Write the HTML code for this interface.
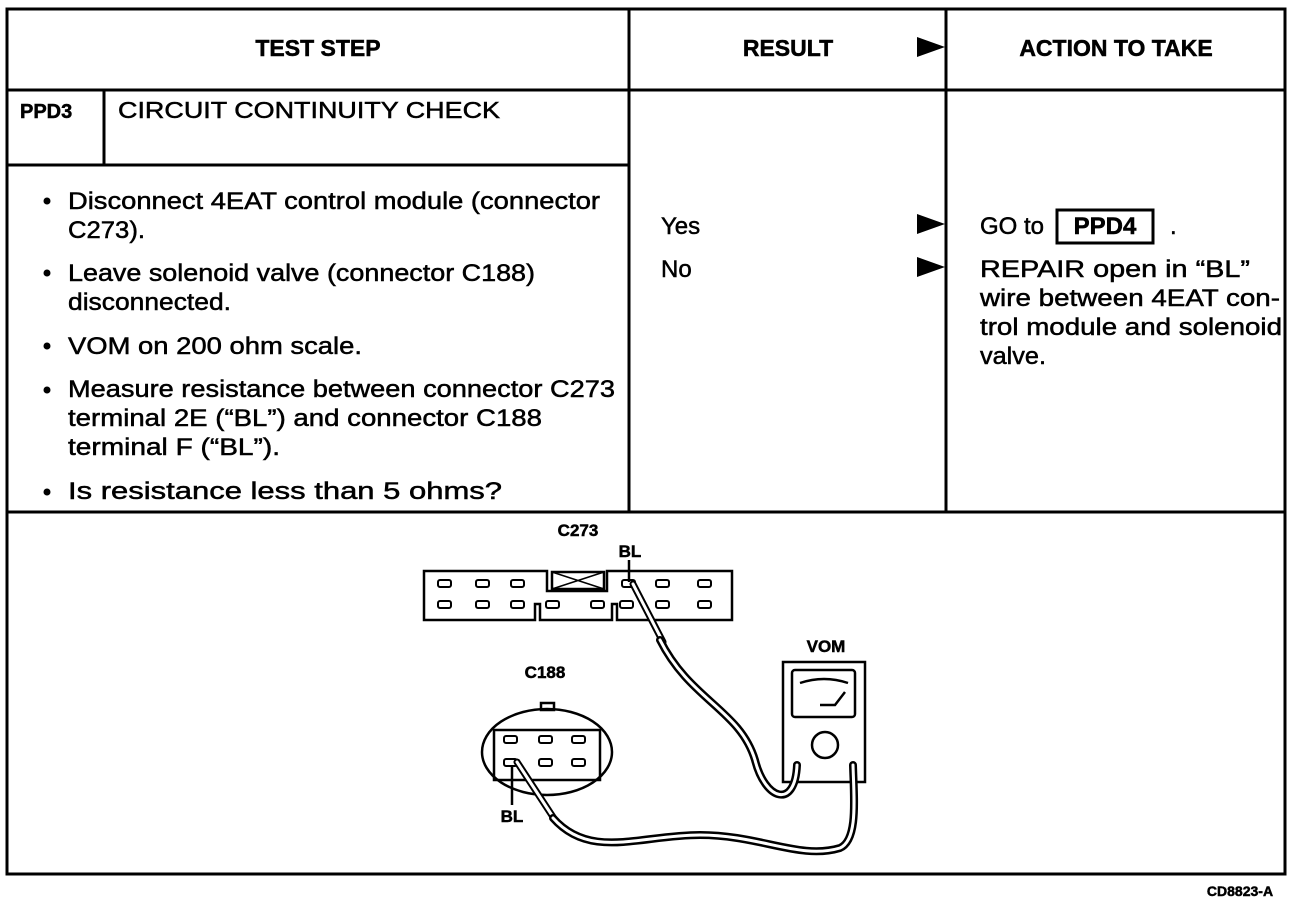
<!DOCTYPE html>
<html><head><meta charset="utf-8"><style>
html,body{margin:0;padding:0;background:#fff;}
svg{display:block;}
text{font-family:"Liberation Sans",Arial,sans-serif;fill:#000;}
.t text{stroke:#000;stroke-width:0.5;}
.b{font-weight:bold;}
</style></head><body>
<svg width="1312" height="904" viewBox="0 0 1312 904" xmlns="http://www.w3.org/2000/svg">
<g stroke="#000" fill="none" stroke-width="3">
<rect x="7" y="9" width="1278" height="865"/>
<line x1="7" y1="90" x2="1285" y2="90"/>
<line x1="629" y1="9" x2="629" y2="512"/>
<line x1="946" y1="9" x2="946" y2="512"/>
<line x1="7" y1="165" x2="629" y2="165"/>
<line x1="104" y1="90" x2="104" y2="165"/>
<line x1="7" y1="512" x2="1285" y2="512"/>
</g>
<g font-size="23" class="t">
<text x="318" y="56" text-anchor="middle" class="b">TEST STEP</text>
<text x="788" y="56" text-anchor="middle" class="b">RESULT</text>
<text x="1116" y="56" text-anchor="middle" class="b">ACTION TO TAKE</text>
<text x="20" y="118" class="b" font-size="20">PPD3</text>
<text x="118" y="118" textLength="382" lengthAdjust="spacingAndGlyphs">CIRCUIT CONTINUITY CHECK</text>
</g>
<g fill="#000">
<polygon points="917,37 945,47 917,57"/>
<polygon points="917,214 945,224 917,234"/>
<polygon points="917,257 945,267 917,277"/>
</g>
<g font-size="24" class="t">
<circle cx="47" cy="201" r="3.5"/><circle cx="47" cy="273" r="3.5"/><circle cx="47" cy="346" r="3.5"/><circle cx="47" cy="390" r="3.5"/><circle cx="47" cy="492" r="3.5"/>
<text x="68" y="209" textLength="532" lengthAdjust="spacingAndGlyphs">Disconnect 4EAT control module (connector</text>
<text x="68" y="238" textLength="77" lengthAdjust="spacingAndGlyphs">C273).</text>
<text x="68" y="281" textLength="467" lengthAdjust="spacingAndGlyphs">Leave solenoid valve (connector C188)</text>
<text x="68" y="310" textLength="163" lengthAdjust="spacingAndGlyphs">disconnected.</text>
<text x="68" y="354" textLength="294" lengthAdjust="spacingAndGlyphs">VOM on 200 ohm scale.</text>
<text x="68" y="397" textLength="547" lengthAdjust="spacingAndGlyphs">Measure resistance between connector C273</text>
<text x="68" y="426" textLength="474" lengthAdjust="spacingAndGlyphs">terminal 2E (“BL”) and connector C188</text>
<text x="68" y="455" textLength="212" lengthAdjust="spacingAndGlyphs">terminal F (“BL”).</text>
<text x="68" y="499" textLength="434" lengthAdjust="spacingAndGlyphs">Is resistance less than 5 ohms?</text>
<text x="661" y="234">Yes</text>
<text x="661" y="277">No</text>
<text x="980" y="234">GO to</text>
<text x="1105" y="234" text-anchor="middle" class="b">PPD4</text>
<text x="1170" y="234">.</text>
<text x="980" y="277" textLength="270" lengthAdjust="spacingAndGlyphs">REPAIR open in “BL”</text>
<text x="980" y="306" textLength="300" lengthAdjust="spacingAndGlyphs">wire between 4EAT con-</text>
<text x="980" y="335" textLength="302" lengthAdjust="spacingAndGlyphs">trol module and solenoid</text>
<text x="980" y="364" textLength="66" lengthAdjust="spacingAndGlyphs">valve.</text>
</g>
<rect x="1057" y="210" width="96" height="33" fill="none" stroke="#000" stroke-width="3"/>
<!-- diagram -->
<g font-size="17" font-weight="bold" class="t">
<text x="578" y="536" text-anchor="middle">C273</text>
<text x="630" y="557" text-anchor="middle">BL</text>
<text x="826" y="652" text-anchor="middle">VOM</text>
<text x="545" y="678" text-anchor="middle">C188</text>
<text x="512" y="822" text-anchor="middle">BL</text>
<text x="1240" y="896" text-anchor="middle" font-size="14">CD8823-A</text>
</g>
<g stroke="#000" fill="none" stroke-width="2.5">
<path d="M424,571 H547 V591 H607 V571 H732 V620 H617 V604 H612 V620 H540 V604 H535 V620 H424 Z"/>
<rect x="552" y="572" width="52" height="17"/>
<path d="M552,572 L604,589 M604,572 L552,589" stroke-width="1.5"/>
<line x1="629" y1="560" x2="629" y2="582"/>
</g>
<g stroke="#000" fill="none" stroke-width="2">
<rect x="438" y="580" width="13" height="7" rx="2"/><rect x="476" y="580" width="13" height="7" rx="2"/><rect x="511" y="580" width="13" height="7" rx="2"/>
<rect x="622" y="580" width="13" height="7" rx="2"/><rect x="656" y="580" width="13" height="7" rx="2"/><rect x="698" y="580" width="13" height="7" rx="2"/>
<rect x="438" y="601" width="13" height="7" rx="2"/><rect x="476" y="601" width="13" height="7" rx="2"/><rect x="511" y="601" width="13" height="7" rx="2"/><rect x="546" y="601" width="13" height="7" rx="2"/>
<rect x="591" y="601" width="13" height="7" rx="2"/><rect x="620" y="601" width="13" height="7" rx="2"/><rect x="656" y="601" width="13" height="7" rx="2"/><rect x="698" y="601" width="13" height="7" rx="2"/>
</g>
<!-- VOM -->
<g stroke="#000" fill="none" stroke-width="2.5">
<rect x="783" y="662" width="82" height="120"/>
<rect x="792" y="670" width="63" height="47" rx="3"/>
<path d="M800,683 Q824,675 848,683" />
<path d="M820,705 H835 L845,692"/>
<circle cx="825" cy="745" r="13"/>
<!-- C188 -->
<ellipse cx="547" cy="752" rx="65" ry="43"/>
<rect x="494" y="730" width="106" height="50"/>
<rect x="541" y="703" width="13" height="7"/>
<line x1="512" y1="765" x2="512" y2="805"/>
</g>
<g stroke="#000" fill="none" stroke-width="2">
<rect x="504" y="736" width="13" height="7" rx="2"/><rect x="539" y="736" width="13" height="7" rx="2"/><rect x="572" y="736" width="13" height="7" rx="2"/>
<rect x="504" y="759" width="13" height="7" rx="2"/><rect x="539" y="759" width="13" height="7" rx="2"/><rect x="572" y="759" width="13" height="7" rx="2"/>
</g>
<!-- probes and wires -->
<g fill="none" stroke-linecap="round">
<path d="M633,584 L663,642" stroke="#000" stroke-width="7"/>
<path d="M633,584 L663,642" stroke="#fff" stroke-width="3"/>
<path d="M517,762 L555,820" stroke="#000" stroke-width="7"/>
<path d="M517,762 L555,820" stroke="#fff" stroke-width="3"/>
<path d="M660,640 C690,700 740,710 755,760 C765,800 795,810 797,765" stroke="#000" stroke-width="8"/>
<path d="M660,640 C690,700 740,710 755,760 C765,800 795,810 797,765" stroke="#fff" stroke-width="3"/>
<path d="M553,818 C590,860 640,835 700,835 C760,835 800,860 840,848 C858,840 854,800 853,765" stroke="#000" stroke-width="8"/>
<path d="M553,818 C590,860 640,835 700,835 C760,835 800,860 840,848 C858,840 854,800 853,765" stroke="#fff" stroke-width="3"/>
</g>
</svg>
</body></html>
